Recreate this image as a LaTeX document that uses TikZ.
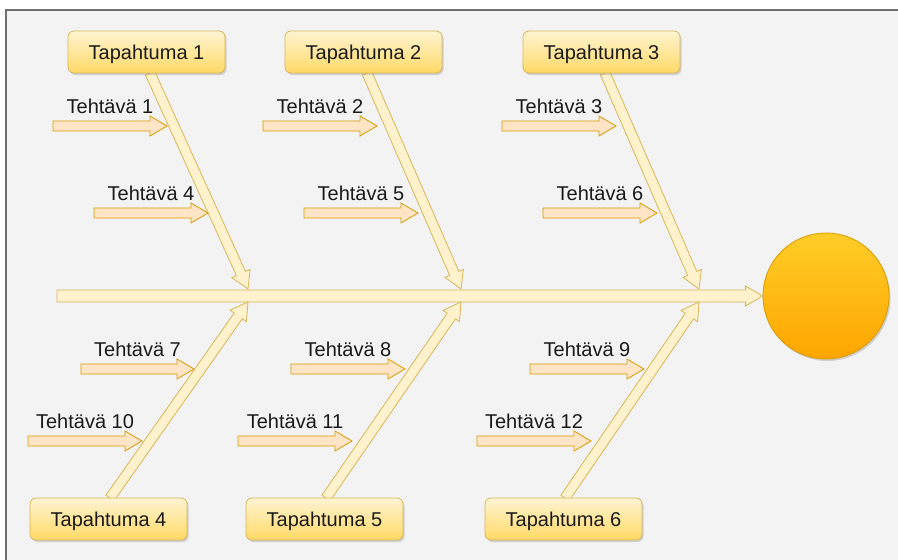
\documentclass[tikz,border=0pt]{standalone}
\usepackage{fontspec}
\setmainfont{Liberation Sans}
\usetikzlibrary{calc,shadows}
\definecolor{bgc}{HTML}{F4F3F3}
\definecolor{framec}{HTML}{6E6E6E}
\definecolor{boneFill}{HTML}{FFF2CC}
\definecolor{boneDraw}{HTML}{D6B656}
\definecolor{taskFill}{HTML}{FFE4C6}
\definecolor{taskDraw}{HTML}{D79B00}
\definecolor{boxTop}{HTML}{FFF4D2}
\definecolor{boxBot}{HTML}{FFD966}
\definecolor{circTop}{HTML}{FFCD28}
\definecolor{circBot}{HTML}{FFA500}
\definecolor{txt}{HTML}{1A1A1A}
\newcommand\blockarrow[6]{%
  \coordinate (ba-h) at ($(#3)!#6!(#2)$);
  \path[#1] ($(#2)!#4!90:(#3)$) -- ($(ba-h)!#4!-90:(#2)$) -- ($(ba-h)!#5!-90:(#2)$)
    -- (#3) -- ($(ba-h)!#5!90:(#2)$) -- ($(ba-h)!#4!90:(#2)$) -- ($(#2)!#4!-90:(#3)$) -- cycle;}
\tikzset{
  evbox/.style={draw=boneDraw, line width=0.8pt, top color=boxTop, bottom color=boxBot,
    rounded corners=6pt, minimum width=157pt, minimum height=42pt, inner sep=0pt,
    text depth=0pt, text=txt,
    drop shadow={shadow xshift=1.5pt, shadow yshift=-2pt, opacity=0.25, fill=black!60}},
  bonestyle/.style={fill=boneFill, draw=boneDraw, line width=0.8pt, line join=miter},
  taskstyle/.style={fill=taskFill, draw=taskDraw, line width=0.8pt, line join=miter},
  tasklabel/.style={anchor=base, inner sep=0pt, text=txt},
  headc/.style={circle, draw=taskDraw, line width=0.8pt, top color=circTop, bottom color=circBot,
    minimum size=126pt, inner sep=0pt,
    drop shadow={shadow xshift=1.5pt, shadow yshift=-2pt, opacity=0.25, fill=black!60}}
}
\begin{document}
\begin{tikzpicture}[x=1pt, y=-1pt, font=\fontsize{20}{24}\selectfont]
\useasboundingbox (0,0) rectangle (898,560);
\fill[bgc] (6,10) rectangle (898,560);
\draw[framec, line width=1.2pt] (6,560) -- (6,10) -- (898,10);

% head circle
\node[headc] (c) at (826,296) {};

% spine
\coordinate (sp) at (57,296);
\blockarrow{bonestyle}{sp}{c.west}{6pt}{10pt}{17pt}

% junction points on the spine
\coordinate (j1t) at (248,289);
\coordinate (j2t) at (461,289);
\coordinate (j3t) at (699,289);
\coordinate (j1b) at (248,302);
\coordinate (j2b) at (461,302);
\coordinate (j3b) at (699,302);

% event boxes (positions)
\path (146.5,52) coordinate (p1) (363.5,52) coordinate (p2) (601.5,52) coordinate (p3)
      (108.5,519) coordinate (p4) (324.5,519) coordinate (p5) (563.5,519) coordinate (p6);

% bones
\coordinate (b1) at ($(p1)+(3.5,21)$);
\coordinate (b2) at ($(p2)+(3.5,21)$);
\coordinate (b3) at ($(p3)+(3.5,21)$);
\coordinate (b4) at ($(p4)+(1.5,-21)$);
\coordinate (b5) at ($(p5)+(1.5,-21)$);
\coordinate (b6) at ($(p6)+(1.5,-21)$);
\blockarrow{bonestyle}{b1}{j1t}{5pt}{10pt}{17pt}
\blockarrow{bonestyle}{b2}{j2t}{5pt}{10pt}{17pt}
\blockarrow{bonestyle}{b3}{j3t}{5pt}{10pt}{17pt}
\blockarrow{bonestyle}{b4}{j1b}{5pt}{10pt}{17pt}
\blockarrow{bonestyle}{b5}{j2b}{5pt}{10pt}{17pt}
\blockarrow{bonestyle}{b6}{j3b}{5pt}{10pt}{17pt}

% event boxes
\node[evbox] (t1) at (p1) {Tapahtuma 1};
\node[evbox] (t2) at (p2) {Tapahtuma 2};
\node[evbox] (t3) at (p3) {Tapahtuma 3};
\node[evbox] (t4) at (p4) {Tapahtuma 4};
\node[evbox] (t5) at (p5) {Tapahtuma 5};
\node[evbox] (t6) at (p6) {Tapahtuma 6};

% task arrows
\foreach \n/\xa/\xb/\yy in {1/53/167/126, 4/94/208/213, 2/263/377/126, 5/304/418/213,
  3/502/616/126, 6/543/657/213, 7/81/194/369, 10/28/142/441, 8/291/405/369,
  11/238/352/441, 9/530/644/369, 12/477/591/441}{
  \coordinate (as\n) at (\xa,\yy);
  \coordinate (ae\n) at (\xb,\yy);
  \blockarrow{taskstyle}{as\n}{ae\n}{5pt}{10pt}{17pt}
  \node[tasklabel] (l\n) at ($(as\n)!0.5!(ae\n)+(0,-13)$) {Tehtävä \n};
}
\end{tikzpicture}
\end{document}
